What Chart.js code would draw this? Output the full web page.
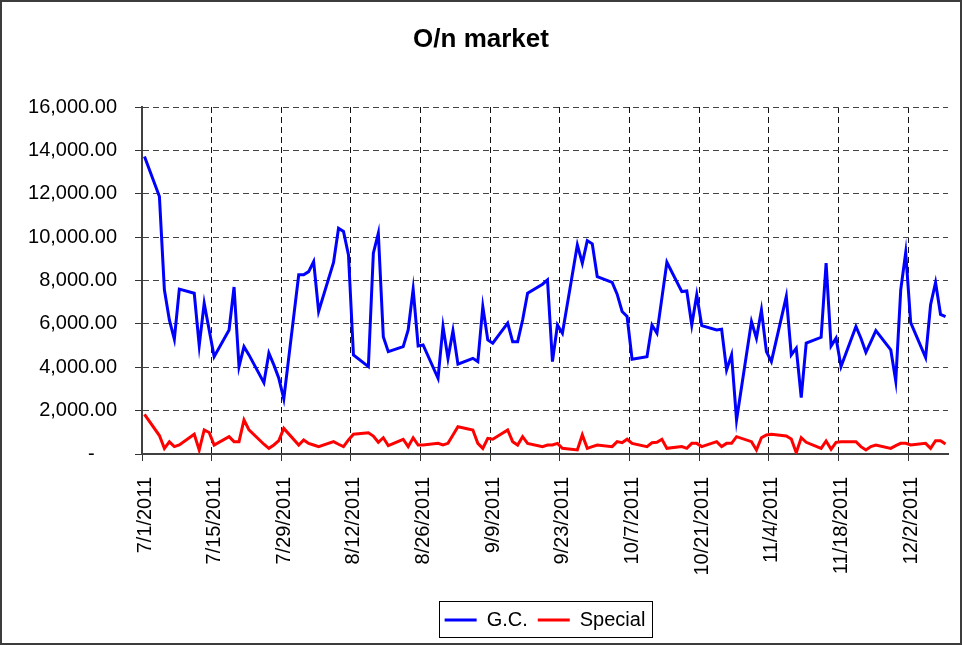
<!DOCTYPE html>
<html>
<head>
<meta charset="utf-8">
<title>O/n market</title>
<script src="https://cdn.jsdelivr.net/npm/chart.js@4.4.1/dist/chart.umd.min.js"></script>
<style>
    html, body { margin: 0; padding: 0; background: #fff; }
    canvas { display: block; }
</style>
</head>
<body>
<canvas id="marketChart" width="962" height="645"></canvas>
<script>
// trading days shown in the chart
const dates = [
    '7/1/2011',
    '7/4/2011', '7/5/2011', '7/6/2011', '7/7/2011', '7/8/2011',
    '7/11/2011', '7/12/2011', '7/13/2011', '7/14/2011', '7/15/2011',
    '7/18/2011', '7/19/2011', '7/20/2011', '7/21/2011', '7/22/2011',
    '7/25/2011', '7/26/2011', '7/27/2011', '7/28/2011', '7/29/2011',
    '8/1/2011', '8/2/2011', '8/3/2011', '8/4/2011', '8/5/2011',
    '8/8/2011', '8/9/2011', '8/10/2011', '8/11/2011', '8/12/2011',
    '8/15/2011', '8/16/2011', '8/17/2011', '8/18/2011', '8/19/2011',
    '8/22/2011', '8/23/2011', '8/24/2011', '8/25/2011', '8/26/2011',
    '8/29/2011', '8/30/2011', '8/31/2011', '9/1/2011', '9/2/2011',
    '9/5/2011', '9/6/2011', '9/7/2011', '9/8/2011', '9/9/2011',
    '9/12/2011', '9/13/2011', '9/14/2011', '9/15/2011', '9/16/2011',
    '9/19/2011', '9/20/2011', '9/21/2011', '9/22/2011', '9/23/2011',
    '9/26/2011', '9/27/2011', '9/28/2011', '9/29/2011', '9/30/2011',
    '10/3/2011', '10/4/2011', '10/5/2011', '10/6/2011', '10/7/2011',
    '10/10/2011', '10/11/2011', '10/12/2011', '10/13/2011', '10/14/2011',
    '10/17/2011', '10/18/2011', '10/19/2011', '10/20/2011', '10/21/2011',
    '10/24/2011', '10/25/2011', '10/26/2011', '10/27/2011', '10/28/2011',
    '10/31/2011', '11/1/2011', '11/2/2011', '11/3/2011', '11/4/2011',
    '11/7/2011', '11/8/2011', '11/9/2011', '11/10/2011', '11/11/2011',
    '11/14/2011', '11/15/2011', '11/16/2011', '11/17/2011', '11/18/2011',
    '11/21/2011', '11/22/2011', '11/23/2011', '11/24/2011', '11/25/2011',
    '11/28/2011', '11/29/2011', '11/30/2011', '12/1/2011', '12/2/2011',
    '12/5/2011', '12/6/2011', '12/7/2011', '12/8/2011', '12/9/2011'
];

const gcValues = [
    13720,
    11870, 7570, 6180, 5290, 7600,
    7410, 5000, 6950, 5720, 4490,
    5720, 7700, 4030, 4950, 4570,
    3290, 4650, 4110, 3490, 2540,
    8260, 8260, 8410, 8870, 6570,
    8830, 10410, 10260, 9180, 4570,
    4030, 9260, 10180, 5410, 4720,
    4950, 5720, 7600, 4980, 5030,
    3490, 5880, 4410, 5680, 4140,
    4410, 4260, 6800, 5260, 5110,
    6030, 5180, 5180, 6180, 7410,
    7830, 8030, 4260, 5950, 5570,
    9640, 8800, 9840, 9690, 8180,
    7910, 7370, 6570, 6340, 4370,
    4490, 5950, 5570, 7200, 8840,
    7490, 7520, 5950, 7340, 5920,
    5720, 5750, 3880, 4570, 1570,
    6110, 5340, 6640, 4720, 4260,
    7260, 4570, 4880, 2600, 5110,
    5380, 8800, 4980, 5340, 4030,
    5880, 5340, 4690, 5180, 5690,
    4800, 3370, 7570, 9290, 6060,
    4450, 6880, 7910, 6440, 6340
];

const specialValues = [
    1830,
    850, 260, 560, 340, 415,
    910, 185, 1110, 990, 415,
    800, 570, 570, 1570, 1110,
    450, 260, 415, 615, 1180,
    415, 650, 490, 415, 340,
    570, 450, 340, 650, 910,
    980, 830, 540, 750, 390,
    680, 340, 750, 415, 415,
    490, 415, 490, 880, 1260,
    1110, 490, 260, 720, 680,
    1110, 570, 415, 800, 490,
    340, 415, 415, 490, 260,
    185, 880, 260, 340, 415,
    340, 570, 520, 680, 490,
    340, 520, 540, 680, 260,
    340, 260, 490, 490, 340,
    570, 340, 490, 490, 800,
    570, 185, 750, 880, 910,
    830, 690, 60, 750, 540,
    260, 600, 215, 540, 570,
    570, 340, 185, 340, 415,
    260, 385, 490, 490, 415,
    490, 260, 615, 615, 460
];

const tickDays = 14;     // date axis label every two weeks
const yMax = 16000;
const yStep = 2000;

const FONT = "'Liberation Sans', Arial, sans-serif";
const DAY_MS = 86400000;

function parseDate(s) {
    const [m, d, y] = s.split('/').map(Number);
    return Date.UTC(y, m - 1, d);
}

const startMs = parseDate(dates[0]);
const dayOf = (s) => Math.round((parseDate(s) - startMs) / DAY_MS);

function dateLabel(day) {
    const dt = new Date(startMs + day * DAY_MS);
    return (dt.getUTCMonth() + 1) + '/' + dt.getUTCDate() + '/' + dt.getUTCFullYear();
}

function numberLabel(v) {
    // accounting style: zero shows as a dash
    if (v === 0) return '-    ';
    return v.toLocaleString('en-US', { minimumFractionDigits: 2, maximumFractionDigits: 2 });
}

// outer chart frame
const framePlugin = {
    id: 'frame',
    afterDraw(chart) {
        const ctx = chart.ctx;
        ctx.save();
        ctx.strokeStyle = '#3c3c3c';
        ctx.lineWidth = 2;
        ctx.strokeRect(1, 1, chart.width - 2, chart.height - 2);
        ctx.restore();
    }
};

// box drawn around the legend entries, like the Excel legend
const legendBoxPlugin = {
    id: 'legendBox',
    afterDraw(chart) {
        const boxes = chart.legend && chart.legend.legendHitBoxes;
        if (!boxes || !boxes.length) return;
        const left = Math.min(...boxes.map(b => b.left)) - 6;
        const right = Math.max(...boxes.map(b => b.left + b.width)) + 6;
        const top = boxes[0].top - 9;
        const bottom = boxes[0].top + boxes[0].height + 7;
        const ctx = chart.ctx;
        ctx.save();
        ctx.strokeStyle = '#000';
        ctx.lineWidth = 1;
        ctx.strokeRect(Math.round(left) + 0.5, Math.round(top) + 0.5, Math.round(right - left), Math.round(bottom - top));
        ctx.restore();
    }
};

class MarketChart {
    constructor() {
        this.chart = null;
        this.createChart();
    }

    createChart() {
        const ctx = document.getElementById('marketChart').getContext('2d');
        const xMax = dayOf(dates[dates.length - 1]) + 1;
        // points sit in the middle of their day slot
        const toPoints = (values) => values.map((v, i) => ({ x: dayOf(dates[i]) + 0.5, y: v }));

        this.chart = new Chart(ctx, {
            type: 'line',
            data: {
                datasets: [{
                    label: 'G.C.',
                    data: toPoints(gcValues),
                    borderColor: '#0000ff',
                    backgroundColor: '#0000ff',
                    borderWidth: 3,
                    pointRadius: 0,
                    tension: 0
                }, {
                    label: 'Special',
                    data: toPoints(specialValues),
                    borderColor: '#ff0000',
                    backgroundColor: '#ff0000',
                    borderWidth: 3,
                    pointRadius: 0,
                    tension: 0
                }]
            },
            options: {
                responsive: false,
                animation: false,
                layout: {
                    padding: { left: 14, right: 14, top: 0, bottom: 5 }
                },
                scales: {
                    x: {
                        type: 'linear',
                        min: 0,
                        max: xMax,
                        afterFit: (scale) => { scale.height = 146; },
                        afterBuildTicks: (scale) => {
                            scale.ticks = scale.ticks.filter(t => t.value % tickDays === 0);
                        },
                        ticks: {
                            stepSize: tickDays,
                            autoSkip: false,
                            minRotation: 90,
                            maxRotation: 90,
                            padding: 16,
                            labelOffset: 3,
                            color: '#000',
                            font: { family: FONT, size: 20 },
                            callback: (v) => dateLabel(v)
                        },
                        grid: {
                            color: '#111',
                            lineWidth: 1,
                            tickLength: 7,
                            tickColor: '#333',
                            tickBorderDash: []
                        },
                        border: {
                            display: true,
                            color: '#404040',
                            width: 2,
                            dash: [6, 4]
                        }
                    },
                    y: {
                        min: 0,
                        max: yMax,
                        afterFit: (scale) => { scale.width = 128; },
                        ticks: {
                            stepSize: yStep,
                            padding: 18,
                            color: '#000',
                            font: { family: FONT, size: 20 },
                            callback: (v) => numberLabel(v)
                        },
                        grid: {
                            color: '#444',
                            lineWidth: 1,
                            tickLength: 7,
                            tickColor: '#333',
                            tickBorderDash: []
                        },
                        border: {
                            display: true,
                            color: '#404040',
                            width: 2,
                            dash: [6, 4]
                        }
                    }
                },
                plugins: {
                    title: {
                        display: true,
                        text: 'O/n market',
                        color: '#000',
                        font: { family: FONT, size: 26, weight: 'bold' },
                        padding: { top: 24, bottom: 51.8 }
                    },
                    legend: {
                        position: 'bottom',
                        fullSize: false,
                        labels: {
                            color: '#000',
                            font: { family: FONT, size: 20 },
                            boxWidth: 32,
                            boxHeight: 3,
                            padding: 10,
                            generateLabels: (chart) => Chart.defaults.plugins.legend.labels
                                .generateLabels(chart)
                                .map(item => ({ ...item, lineWidth: 0 }))
                        }
                    },
                    tooltip: { enabled: false }
                }
            },
            plugins: [framePlugin, legendBoxPlugin]
        });
    }
}

document.addEventListener('DOMContentLoaded', () => {
    window.marketChart = new MarketChart();
});
</script>
</body>
</html>
